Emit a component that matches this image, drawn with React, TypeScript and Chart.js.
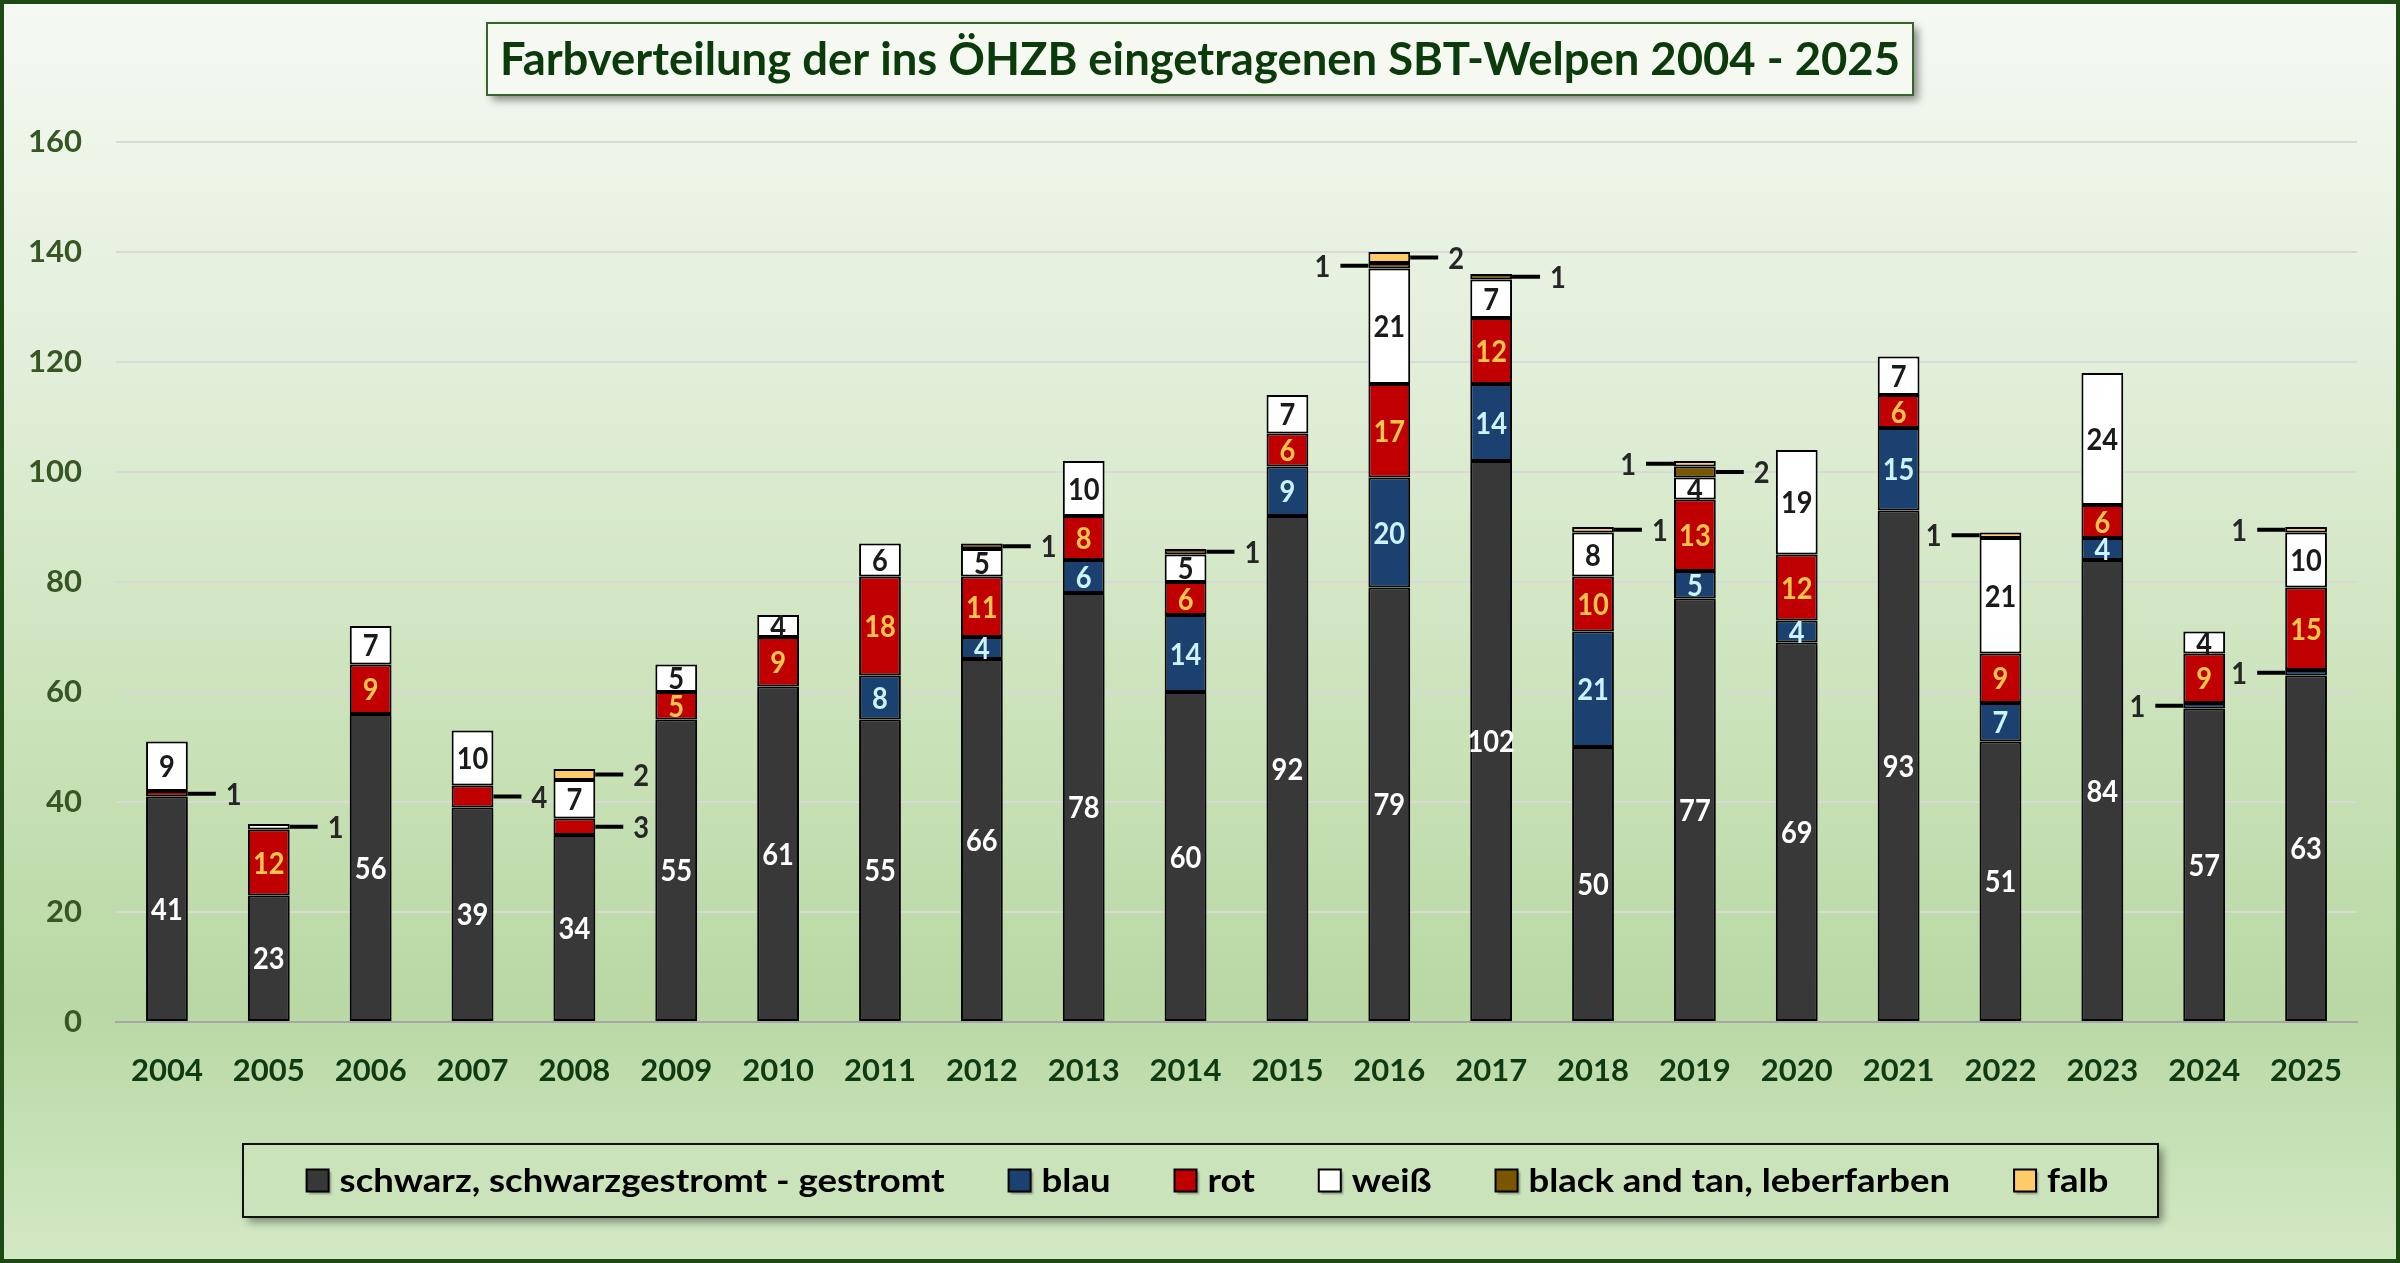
import { useEffect, useRef } from 'react';
import { Chart, ChartConfiguration, Plugin, registerables } from 'chart.js';

Chart.register(...registerables);

const years = [
  '2004', '2005', '2006', '2007', '2008', '2009', '2010', '2011', '2012', '2013', '2014',
  '2015', '2016', '2017', '2018', '2019', '2020', '2021', '2022', '2023', '2024', '2025'
];

const schwarz = [41, 23, 56, 39, 34, 55, 61, 55, 66, 78, 60, 92, 79, 102, 50, 77, 69, 93, 51, 84, 57, 63];
const blau = [0, 0, 0, 0, 0, 0, 0, 8, 4, 6, 14, 9, 20, 14, 21, 5, 4, 15, 7, 4, 1, 1];
const rot = [1, 12, 9, 4, 3, 5, 9, 18, 11, 8, 6, 6, 17, 12, 10, 13, 12, 6, 9, 6, 9, 15];
const weiss = [9, 1, 7, 10, 7, 5, 4, 6, 5, 10, 5, 7, 21, 7, 8, 4, 19, 7, 21, 24, 4, 10];
const blackTan = [0, 0, 0, 0, 0, 0, 0, 0, 1, 0, 1, 0, 1, 1, 0, 2, 0, 0, 0, 0, 0, 0];
const falb = [0, 0, 0, 0, 2, 0, 0, 0, 0, 0, 0, 0, 2, 0, 1, 1, 0, 0, 1, 0, 0, 1];

const seriesNames = [
  'schwarz, schwarzgestromt - gestromt',
  'blau',
  'rot',
  'weiß',
  'black and tan, leberfarben',
  'falb'
];
const seriesValues = [schwarz, blau, rot, weiss, blackTan, falb];
const seriesColors = ['#383838', '#1a4170', '#c00000', '#ffffff', '#7b5600', '#ffca68'];
const labelColors = ['#ffffff', '#cdf3ff', '#ffc64a', '#1a1a1a', '#1a1a1a', '#1a1a1a'];

// small segments labelled outside the bar with a leader line: [series, year, side]
const outsideLabels: [number, string, 'left' | 'right'][] = [
  [2, '2004', 'right'],
  [3, '2005', 'right'],
  [2, '2007', 'right'],
  [2, '2008', 'right'],
  [5, '2008', 'right'],
  [4, '2012', 'right'],
  [4, '2014', 'right'],
  [4, '2016', 'left'],
  [5, '2016', 'right'],
  [4, '2017', 'right'],
  [5, '2018', 'right'],
  [5, '2019', 'left'],
  [4, '2019', 'right'],
  [5, '2022', 'left'],
  [1, '2024', 'left'],
  [1, '2025', 'left'],
  [5, '2025', 'left']
];

const chartTitle = 'Farbverteilung der ins ÖHZB eingetragenen SBT-Welpen 2004 - 2025';

const W = 2400;
const H = 1263;
const FONT = 'Lato, "Open Sans", sans-serif';

// draws text squeezed/stretched horizontally
function drawFitted(ctx: CanvasRenderingContext2D, text: string, x: number, y: number, sx: number) {
  ctx.save();
  ctx.translate(x, y);
  ctx.scale(sx, 1);
  ctx.fillText(text, 0, 0);
  ctx.restore();
}

const backdrop: Plugin<'bar'> = {
  id: 'backdrop',
  beforeDraw(chart) {
    const { ctx } = chart;
    const g = ctx.createLinearGradient(0, 0, 0, H);
    g.addColorStop(0, '#f5f9f3');
    g.addColorStop(0.3, '#e1eed8');
    g.addColorStop(0.6, '#c8e1b6');
    g.addColorStop(0.8, '#b9d8a4');
    g.addColorStop(1, '#d3e9c6');
    ctx.save();
    ctx.fillStyle = g;
    ctx.fillRect(0, 0, W, H);
    ctx.restore();
  },
  beforeDatasetDraw(chart, args) {
    if (args.index === 0) {
      const { ctx } = chart;
      ctx.save();
      ctx.shadowColor = 'rgba(0,0,0,0.35)';
      ctx.shadowOffsetY = 3;
      ctx.shadowBlur = 3;
    }
  },
  afterDatasetDraw(chart, args) {
    if (args.index === 0) chart.ctx.restore();
  }
};

const segmentLabels: Plugin<'bar'> = {
  id: 'segmentLabels',
  afterDatasetsDraw(chart) {
    const { ctx } = chart;
    ctx.save();
    ctx.font = `bold 31px ${FONT}`;
    ctx.textBaseline = 'middle';
    ctx.textAlign = 'left';
    chart.data.datasets.forEach((_, di) => {
      const meta = chart.getDatasetMeta(di);
      meta.data.forEach((el: any, i) => {
        const v = seriesValues[di][i];
        if (!v) return;
        const { x, y, base, width } = el.getProps(['x', 'y', 'base', 'width'], true);
        const cy = (y + base) / 2;
        const txt = String(v);
        const tw = ctx.measureText(txt).width * 0.88;
        const out = outsideLabels.find((o) => o[0] === di && o[1] === years[i]);
        if (out) {
          const side = out[2] === 'left' ? -1 : 1;
          const x0 = x + (side * width) / 2;
          const x1 = x0 + side * 28;
          ctx.strokeStyle = '#000';
          ctx.lineWidth = 4;
          ctx.beginPath();
          ctx.moveTo(x0, cy);
          ctx.lineTo(x1, cy);
          ctx.stroke();
          ctx.fillStyle = '#262626';
          const tx = side > 0 ? x1 + 10 : x1 - 10 - tw;
          drawFitted(ctx, txt, tx, cy + 1, 0.88);
        } else {
          ctx.fillStyle = labelColors[di];
          drawFitted(ctx, txt, x - tw / 2, cy + 1, 0.88);
        }
      });
    });
    ctx.restore();
  }
};

const decorations: Plugin<'bar'> = {
  id: 'decorations',
  afterDraw(chart) {
    const { ctx } = chart;

    // title box
    ctx.save();
    ctx.shadowColor = 'rgba(0,0,0,0.45)';
    ctx.shadowBlur = 8;
    ctx.shadowOffsetX = 5;
    ctx.shadowOffsetY = 5;
    ctx.fillStyle = '#f5f9f2';
    ctx.fillRect(487, 23, 1426, 72);
    ctx.restore();
    ctx.save();
    ctx.strokeStyle = '#3a632b';
    ctx.lineWidth = 2;
    ctx.strokeRect(487, 23, 1426, 72);
    ctx.font = `bold 46px ${FONT}`;
    ctx.fillStyle = '#0b3a0b';
    ctx.textBaseline = 'middle';
    ctx.textAlign = 'left';
    const tw = ctx.measureText(chartTitle).width;
    drawFitted(ctx, chartTitle, 1200 - 700, 60, 1400 / tw);
    ctx.restore();

    // legend box
    const lx = 243;
    const ly = 1144;
    const lw = 1915;
    const lh = 73;
    ctx.save();
    ctx.shadowColor = 'rgba(0,0,0,0.4)';
    ctx.shadowBlur = 8;
    ctx.shadowOffsetX = 5;
    ctx.shadowOffsetY = 5;
    ctx.fillStyle = '#cbe3bb';
    ctx.fillRect(lx, ly, lw, lh);
    ctx.restore();
    ctx.save();
    ctx.strokeStyle = '#111';
    ctx.lineWidth = 2;
    ctx.strokeRect(lx, ly, lw, lh);

    ctx.font = `bold 33px ${FONT}`;
    ctx.textBaseline = 'middle';
    ctx.textAlign = 'left';
    const sx = 605 / ctx.measureText(seriesNames[0]).width;
    const box = 22;
    const gapText = 11;
    const gapItem = 64;
    const widths = seriesNames.map((n) => ctx.measureText(n).width * sx);
    const total =
      widths.reduce((a, b) => a + b, 0) + seriesNames.length * (box + gapText) + (seriesNames.length - 1) * gapItem;
    let cx = lx + (lw - total) / 2 + 7;
    const cy = ly + lh / 2;
    chart.data.datasets.forEach((ds, i) => {
      ctx.save();
      ctx.shadowColor = 'rgba(0,0,0,0.35)';
      ctx.shadowBlur = 2;
      ctx.shadowOffsetX = 2;
      ctx.shadowOffsetY = 2;
      ctx.fillStyle = ds.backgroundColor as string;
      ctx.fillRect(cx, cy - box / 2, box, box);
      ctx.restore();
      ctx.strokeStyle = '#000';
      ctx.lineWidth = 2;
      ctx.strokeRect(cx, cy - box / 2, box, box);
      ctx.fillStyle = '#000';
      drawFitted(ctx, seriesNames[i], cx + box + gapText, cy + 1, sx);
      cx += box + gapText + widths[i] + gapItem;
    });
    ctx.restore();

    // outer frame
    ctx.save();
    ctx.strokeStyle = '#1d4a14';
    ctx.lineWidth = 8;
    ctx.strokeRect(0, 0, W, H);
    ctx.restore();
  }
};

export default function App() {
  const canvasRef = useRef<HTMLCanvasElement | null>(null);

  useEffect(() => {
    if (!canvasRef.current) return;

    const config: ChartConfiguration<'bar'> = {
      type: 'bar',
      data: {
        labels: years,
        datasets: seriesNames.map((name, i) => ({
          label: name,
          data: seriesValues[i].map((v) => (v === 0 ? null : v)),
          backgroundColor: seriesColors[i],
          borderColor: '#000000',
          borderWidth: 2,
          borderSkipped: false,
          barPercentage: 0.41,
          categoryPercentage: 1,
          stack: 'farben'
        }))
      },
      options: {
        responsive: false,
        animation: false,
        devicePixelRatio: 1,
        events: [],
        layout: { padding: { left: 4, right: 43, top: 142, bottom: 141 } },
        plugins: {
          legend: { display: false },
          title: { display: false },
          tooltip: { enabled: false }
        },
        scales: {
          x: {
            stacked: true,
            grid: { display: false },
            border: { display: true, color: '#a6a6a6', width: 2 },
            ticks: {
              color: '#0f3a12',
              font: { family: FONT, size: 31, weight: 'bold' },
              padding: 22,
              maxRotation: 0
            },
            afterFit: (scale) => {
              scale.height = 100;
            }
          },
          y: {
            stacked: true,
            min: 0,
            max: 160,
            grid: {
              color: (c) => (c.tick && c.tick.value === 0 ? '#a6a6a6' : '#d9d9d9'),
              lineWidth: 2,
              drawTicks: false
            },
            border: { display: false },
            ticks: {
              stepSize: 20,
              color: '#375623',
              font: { family: FONT, size: 31, weight: 'bold' },
              padding: 34
            },
            afterFit: (scale) => {
              scale.width = 112;
            }
          }
        }
      },
      plugins: [backdrop, segmentLabels, decorations]
    };

    const chart = new Chart(canvasRef.current, config);
    document.fonts?.ready.then(() => chart.update());

    return () => {
      chart.destroy();
    };
  }, []);

  return (
    <canvas
      ref={canvasRef}
      width={W}
      height={H}
      style={{ position: 'absolute', left: 0, top: 0, width: W, height: H, display: 'block' }}
    />
  );
}
